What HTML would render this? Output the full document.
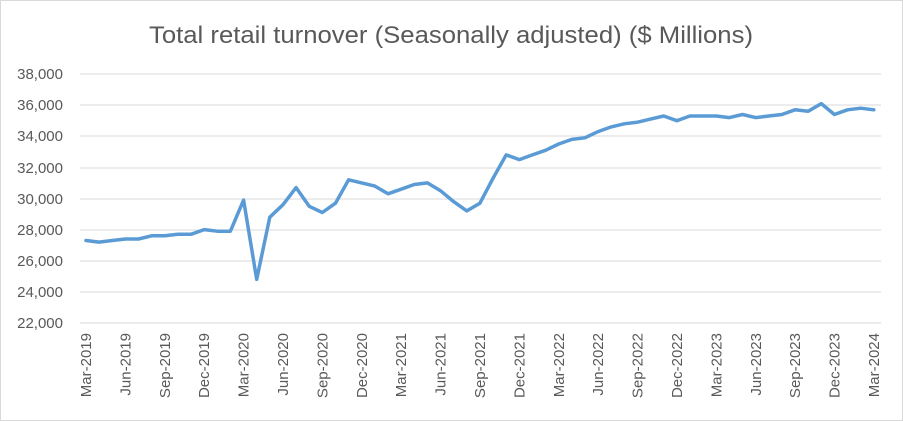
<!DOCTYPE html>
<html><head><meta charset="utf-8"><style>
html,body{margin:0;padding:0;background:#fff;}
svg{display:block;font-family:"Liberation Sans",sans-serif;}
</style></head><body>
<svg id="c" width="903" height="421" viewBox="0 0 903 421">
<rect x="0.5" y="0.5" width="902" height="420" fill="#fff" stroke="#d9d9d9"/>
<text x="451" y="43" text-anchor="middle" font-size="24" fill="#595959" textLength="604" lengthAdjust="spacingAndGlyphs">Total retail turnover (Seasonally adjusted) ($ Millions)</text>
<g stroke="#d9d9d9" stroke-width="1">
<line x1="80" x2="881" y1="74" y2="74"/><line x1="80" x2="881" y1="105" y2="105"/>
<line x1="80" x2="881" y1="136" y2="136"/><line x1="80" x2="881" y1="168" y2="168"/>
<line x1="80" x2="881" y1="199" y2="199"/><line x1="80" x2="881" y1="230" y2="230"/>
<line x1="80" x2="881" y1="261" y2="261"/><line x1="80" x2="881" y1="292" y2="292"/>
<line x1="80" x2="881" y1="323" y2="323"/>
</g>
<g font-size="15" fill="#595959" text-anchor="end">
<text x="63" y="79">38,000</text><text x="63" y="110">36,000</text><text x="63" y="141">34,000</text>
<text x="63" y="173">32,000</text><text x="63" y="204">30,000</text><text x="63" y="235">28,000</text>
<text x="63" y="266">26,000</text><text x="63" y="297">24,000</text><text x="63" y="328">22,000</text>
</g>
<g font-size="15" fill="#595959" text-anchor="end">
<text transform="translate(91,333) rotate(-90)">Mar-2019</text>
<text transform="translate(130.4,333) rotate(-90)">Jun-2019</text>
<text transform="translate(169.8,333) rotate(-90)">Sep-2019</text>
<text transform="translate(209.2,333) rotate(-90)">Dec-2019</text>
<text transform="translate(248.6,333) rotate(-90)">Mar-2020</text>
<text transform="translate(288,333) rotate(-90)">Jun-2020</text>
<text transform="translate(327.4,333) rotate(-90)">Sep-2020</text>
<text transform="translate(366.8,333) rotate(-90)">Dec-2020</text>
<text transform="translate(406.2,333) rotate(-90)">Mar-2021</text>
<text transform="translate(445.6,333) rotate(-90)">Jun-2021</text>
<text transform="translate(485,333) rotate(-90)">Sep-2021</text>
<text transform="translate(524.4,333) rotate(-90)">Dec-2021</text>
<text transform="translate(563.8,333) rotate(-90)">Mar-2022</text>
<text transform="translate(603.2,333) rotate(-90)">Jun-2022</text>
<text transform="translate(642.6,333) rotate(-90)">Sep-2022</text>
<text transform="translate(682,333) rotate(-90)">Dec-2022</text>
<text transform="translate(721.4,333) rotate(-90)">Mar-2023</text>
<text transform="translate(760.8,333) rotate(-90)">Jun-2023</text>
<text transform="translate(800.2,333) rotate(-90)">Sep-2023</text>
<text transform="translate(839.6,333) rotate(-90)">Dec-2023</text>
<text transform="translate(879,333) rotate(-90)">Mar-2024</text>
</g>
<polyline id="ln" fill="none" stroke="#5b9bd5" stroke-width="3.5" stroke-linejoin="round" stroke-linecap="round" points=""/>
</svg>
<script>
var v=[27300,27200,27300,27400,27400,27600,27600,27700,27700,28000,27900,27900,29900,24800,28800,29600,30700,29500,29100,29700,31200,31000,30800,30300,30600,30900,31000,30500,29800,29200,29700,31300,32800,32500,32800,33100,33500,33800,33900,34300,34600,34800,34900,35100,35300,35000,35300,35300,35300,35200,35400,35200,35300,35400,35700,35600,36100,35400,35700,35800,35700];
var p=v.map(function(d,i){return (86+i*13.13).toFixed(1)+","+(323-(d-22000)*249/16000).toFixed(1);}).join(" ");
document.getElementById("ln").setAttribute("points",p);
</script>
</body></html>
